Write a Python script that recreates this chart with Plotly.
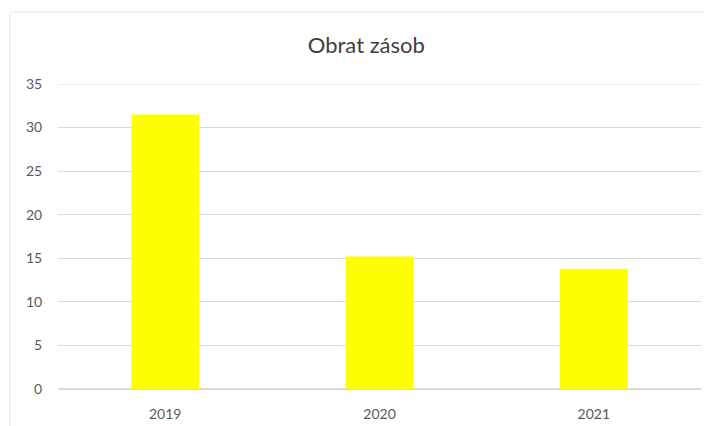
import plotly.graph_objects as go

# data
years = ['2019', '2020', '2021']
obrat = [31.5, 15.2, 13.8]
y_ticks = [0, 5, 10, 15, 20, 25, 30, 35]
y_max = 35

fig = go.Figure(data=[
    go.Bar(
        x=years,
        y=obrat,
        marker_color='#ffff00',
        marker_line_width=0,
        width=0.315,
    )
])

# page body adds an 8px offset, margins compensate for it
fig.update_layout(
    width=711,
    height=426,
    margin=dict(l=50, r=18, t=76, b=45),
    plot_bgcolor='#ffffff',
    paper_bgcolor='#ffffff',
    font=dict(family='Lato, sans-serif', color='#595959', size=14),
    title=dict(
        text='Obrat zásob',
        x=0.504,
        xanchor='center',
        y=0.913,
        yanchor='middle',
        font=dict(size=22, color='#404040'),
    ),
    showlegend=False,
    shapes=[
        # top gridline (plotly skips it at the range edge)
        dict(type='line', xref='paper', yref='y',
             x0=0, x1=1, y0=y_max, y1=y_max, layer='below',
             line=dict(color='#d9d9d9', width=1)),
        # light frame of the original chart box
        dict(type='line', xref='paper', yref='paper',
             x0=-0.075, x1=1.05, y0=1.236, y1=1.236,
             line=dict(color='#e6e6e6', width=1)),
        dict(type='line', xref='paper', yref='paper',
             x0=-0.075, x1=-0.075, y0=-0.2, y1=1.236,
             line=dict(color='#e6e6e6', width=1)),
    ],
)

fig.update_xaxes(
    showgrid=False,
    showline=False,
    ticks='outside',
    ticklen=12,
    tickcolor='rgba(0,0,0,0)',
    fixedrange=True,
)
fig.update_yaxes(
    range=[0, y_max],
    tickvals=y_ticks,
    showgrid=True,
    gridcolor='#d9d9d9',
    gridwidth=1,
    zeroline=True,
    zerolinecolor='#d9d9d9',
    ticks='outside',
    ticklen=12,
    tickcolor='rgba(0,0,0,0)',
    fixedrange=True,
)

fig.write_html('out.html')
